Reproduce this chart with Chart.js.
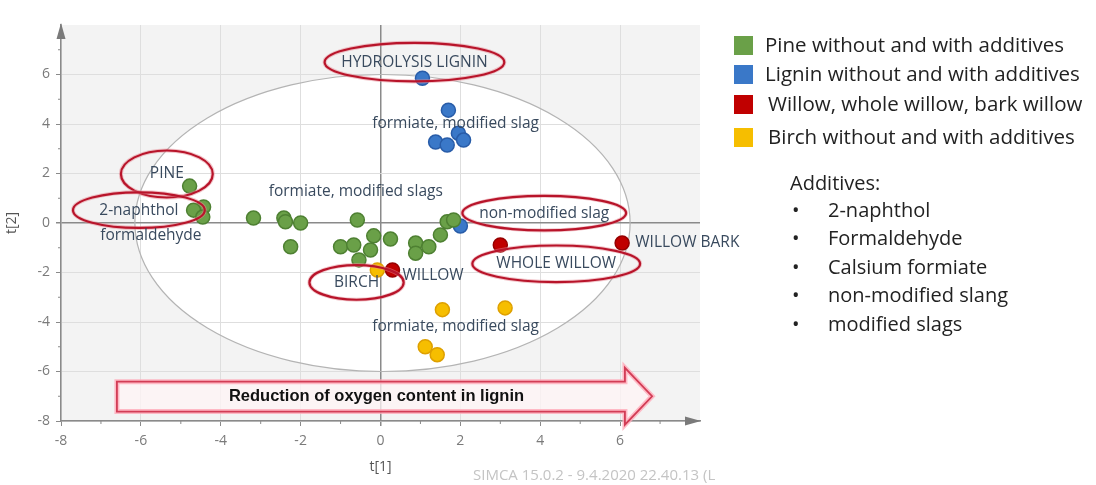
<!DOCTYPE html>
<html>
<head>
<meta charset="utf-8">
<script src="https://cdn.jsdelivr.net/npm/chart.js@4/dist/chart.umd.min.js"></script>
<style>
  html, body { margin: 0; padding: 0; background: #fff; }
  #wrap { width: 1096px; height: 485px; position: relative; }
</style>
</head>
<body>
<div id="wrap"><canvas id="myChart"></canvas></div>
<script>
'use strict';
// *** Data (score plot t[1] / t[2]) ***
const pineX = [-4.78, -4.43, -4.68, -4.45, -3.18, -2.42, -2.38, -2.0, -2.25, -1.0, -0.67, -0.58, -0.54, -0.25, -0.17, 0.25, 0.88, 0.88, 1.21, 1.5, 1.67, 1.83];
const pineY = [1.49, 0.65, 0.52, 0.24, 0.2, 0.2, 0.05, 0.0, -0.96, -0.96, -0.89, 0.12, -1.49, -1.09, -0.52, -0.65, -0.81, -1.22, -0.96, -0.48, 0.05, 0.12];
const ligninX = [1.05, 1.7, 1.38, 1.67, 1.95, 2.08, 2.0];
const ligninY = [5.85, 4.56, 3.27, 3.15, 3.63, 3.35, -0.12];
const willowX = [0.3, 3.0, 6.05];
const willowY = [-1.9, -0.89, -0.81];
const birchX = [-0.08, 1.55, 3.12, 1.12, 1.42];
const birchY = [-1.9, -3.5, -3.43, -5.0, -5.32];

const seriesNames = ['Pine without and with additives', 'Lignin without and with additives', 'Willow, whole willow, bark willow', 'Birch without and with additives'];
const seriesColors = ['rgb(106, 160, 72)', 'rgb(58, 120, 200)', 'rgb(192, 0, 0)', 'rgb(246, 190, 0)'];
const seriesBorders = ['rgb(78, 128, 50)', 'rgb(40, 92, 168)', 'rgb(150, 0, 0)', 'rgb(222, 160, 0)'];
const additives = ['2-naphthol', 'Formaldehyde', 'Calsium formiate', 'non-modified slang', 'modified slags'];

// annotations in data units
const plotLabels = [
	{ text: 'HYDROLYSIS LIGNIN', x: 0.85, y: 6.5, ring: [2.25, 0.78] },
	{ text: 'formiate, modified slag', x: 1.88, y: 4.03 },
	{ text: 'PINE', x: -5.35, y: 1.98, ring: [1.15, 0.95] },
	{ text: '2-naphthol', x: -6.05, y: 0.52, ring: [1.65, 0.72] },
	{ text: 'formaldehyde', x: -5.75, y: -0.52 },
	{ text: 'formiate, modified slags', x: -0.62, y: 1.25 },
	{ text: 'non-modified slag', x: 4.1, y: 0.4, ring: [2.05, 0.7] },
	{ text: 'WILLOW BARK', x: 6.38, y: -0.8, align: 'left' },
	{ text: 'WHOLE WILLOW', x: 4.4, y: -1.65, ring: [2.1, 0.74] },
	{ text: 'WILLOW', x: 0.55, y: -2.14, align: 'left' },
	{ text: 'BIRCH', x: -0.6, y: -2.4, ring: [1.18, 0.7] },
	{ text: 'formiate, modified slag', x: 1.88, y: -4.19 },
];

function toPoints(xs, ys) {
	return xs.map((x, i) => ({ x: x, y: ys[i] }));
}

function prepareDataSets() {
	const aryX = [pineX, ligninX, willowX, birchX];
	const aryY = [pineY, ligninY, willowY, birchY];
	return seriesNames.map((name, i) => ({
		label: name,
		data: toPoints(aryX[i], aryY[i]),
		backgroundColor: seriesColors[i],
		borderColor: seriesBorders[i],
		borderWidth: 1.5,
		pointRadius: 7,
		pointHoverRadius: 7,
	}));
}

const FONT = "'Open Sans', 'DejaVu Sans', sans-serif";

function axisOptions(title, isX) {
	return {
		type: 'linear',
		min: -8,
		max: 8,
		afterBuildTicks: (s) => { s.ticks = s.ticks.filter((t) => t.value < 7); },
		afterFit: (s) => { if (isX) { s.height = 64; } else { s.width = 61; } },
		ticks: { stepSize: 2, color: '#7a7a7a', padding: isX ? 7 : 6, font: { family: FONT, size: 14 } },
		grid: {
			color: (c) => (c.tick && c.tick.value === 0 ? '#8a8a8a' : '#dedede'),
			lineWidth: (c) => (c.tick && c.tick.value === 0 ? 1.5 : 1),
			tickColor: '#8a8a8a',
			tickLength: 5,
		},
		border: { color: '#8a8a8a', width: 1.5 },
		title: {
			display: true,
			text: title,
			color: '#555',
			font: { family: FONT, size: 14 },
			padding: isX ? { top: 0, bottom: 10 } : { top: 4, bottom: 4 },
		},
	};
}

const decorPlugin = {
	id: 'decor',
	beforeDraw(chart) {
		const { ctx, chartArea: a, scales: { x, y } } = chart;
		ctx.save();
		ctx.fillStyle = '#f3f3f3';
		ctx.fillRect(a.left, a.top, a.right - a.left, a.bottom - a.top);
		// Hotelling ellipse
		const cx = x.getPixelForValue(0.05), cy = y.getPixelForValue(0);
		const rx = x.getPixelForValue(6.2) - x.getPixelForValue(0);
		const ry = y.getPixelForValue(0) - y.getPixelForValue(6.0);
		ctx.beginPath();
		ctx.ellipse(cx, cy, rx, ry, 0, 0, Math.PI * 2);
		ctx.fillStyle = '#ffffff';
		ctx.fill();
		ctx.restore();
	},
	beforeDatasetsDraw(chart) {
		const { ctx, chartArea: a, scales: { x, y } } = chart;
		ctx.save();
		const cx = x.getPixelForValue(0.05), cy = y.getPixelForValue(0);
		const rx = x.getPixelForValue(6.2) - x.getPixelForValue(0);
		const ry = y.getPixelForValue(0) - y.getPixelForValue(6.0);
		ctx.beginPath();
		ctx.ellipse(cx, cy, rx, ry, 0, 0, Math.PI * 2);
		ctx.strokeStyle = '#b4b4b4';
		ctx.lineWidth = 1.2;
		ctx.stroke();
		// minor ticks
		ctx.strokeStyle = '#8a8a8a';
		ctx.lineWidth = 1;
		for (let v = -7; v <= 7; v += 2) {
			const px = x.getPixelForValue(v), py = y.getPixelForValue(v);
			ctx.beginPath();
			ctx.moveTo(px, a.bottom); ctx.lineTo(px, a.bottom + 3);
			ctx.moveTo(a.left, py); ctx.lineTo(a.left - 3, py);
			ctx.stroke();
		}
		// axis arrow heads
		ctx.fillStyle = '#7a7a7a';
		ctx.beginPath();
		ctx.moveTo(a.left, a.top - 2); ctx.lineTo(a.left - 4.5, a.top + 14); ctx.lineTo(a.left + 4.5, a.top + 14);
		ctx.closePath(); ctx.fill();
		ctx.beginPath();
		ctx.moveTo(a.right + 1, a.bottom); ctx.lineTo(a.right - 15, a.bottom - 4.5); ctx.lineTo(a.right - 15, a.bottom + 4.5);
		ctx.closePath(); ctx.fill();
		ctx.restore();
	},
	afterDatasetsDraw(chart) {
		const { ctx, scales: { x, y } } = chart;
		ctx.save();
		// big arrow
		const xl = x.getPixelForValue(-6.6), xb = x.getPixelForValue(6.12), xt = x.getPixelForValue(6.8);
		const yt = y.getPixelForValue(-6.41), yb = y.getPixelForValue(-7.62);
		const ht = y.getPixelForValue(-5.85), hb = y.getPixelForValue(-8.15);
		const ym = y.getPixelForValue(-7.0);
		ctx.beginPath();
		ctx.moveTo(xl, yt); ctx.lineTo(xb, yt); ctx.lineTo(xb, ht); ctx.lineTo(xt, ym);
		ctx.lineTo(xb, hb); ctx.lineTo(xb, yb); ctx.lineTo(xl, yb); ctx.closePath();
		ctx.fillStyle = 'rgba(255, 244, 246, 0.75)';
		ctx.fill();
		ctx.strokeStyle = 'rgba(255, 170, 185, 0.8)';
		ctx.lineWidth = 5;
		ctx.stroke();
		ctx.strokeStyle = '#d23c55';
		ctx.lineWidth = 1.8;
		ctx.stroke();
		ctx.fillStyle = '#111';
		ctx.font = "bold 16.5px 'Liberation Sans', Arial, sans-serif";
		ctx.textAlign = 'center';
		ctx.textBaseline = 'middle';
		ctx.fillText('Reduction of oxygen content in lignin', x.getPixelForValue(-0.1), ym);
		// labels and rings
		ctx.font = '15.5px ' + FONT;
		plotLabels.forEach((l) => {
			const px = x.getPixelForValue(l.x), py = y.getPixelForValue(l.y);
			ctx.fillStyle = '#394a5e';
			ctx.textAlign = l.align || 'center';
			ctx.fillText(l.text, px, py);
			if (l.ring) {
				const rx = x.getPixelForValue(l.x + l.ring[0]) - px;
				const ry = py - y.getPixelForValue(l.y + l.ring[1]);
				ctx.beginPath();
				ctx.ellipse(px, py, rx, ry, 0, 0, Math.PI * 2);
				ctx.strokeStyle = 'rgba(230, 140, 150, 0.5)';
				ctx.lineWidth = 4;
				ctx.stroke();
				ctx.strokeStyle = '#b8142a';
				ctx.lineWidth = 2.2;
				ctx.stroke();
			}
		});
		ctx.restore();
	},
	afterDraw(chart) {
		const { ctx } = chart;
		ctx.save();
		// footer
		ctx.fillStyle = '#c4c4c4';
		ctx.font = '15px ' + FONT;
		ctx.textAlign = 'left';
		ctx.textBaseline = 'middle';
		ctx.fillText('SIMCA 15.0.2 - 9.4.2020 22.40.13 (L', 473, 476);
		// legend
		const rowY = [46, 75, 105, 138];
		const textX = [765, 765, 768, 768];
		ctx.font = '20.5px ' + FONT;
		seriesNames.forEach((name, i) => {
			ctx.fillStyle = seriesColors[i];
			ctx.fillRect(734, rowY[i] - 10, 19, 19);
			ctx.fillStyle = '#222';
			ctx.fillText(name, textX[i], rowY[i]);
		});
		// additives list
		ctx.font = '20px ' + FONT;
		ctx.fillText('Additives:', 790, 184);
		additives.forEach((a, i) => {
			const ty = 211 + i * 28.5;
			ctx.fillText('\u2022', 792, ty);
			ctx.fillText(a, 828, ty);
		});
		ctx.restore();
	},
};

function chartIt() {
	const config = {
		type: 'scatter',
		data: { datasets: prepareDataSets() },
		options: {
			responsive: true,
			maintainAspectRatio: false,
			animation: false,
			layout: { padding: { top: 25, right: 396, left: 0, bottom: 0 } },
			plugins: { legend: { display: false }, tooltip: { enabled: false } },
			scales: { x: axisOptions('t[1]', true), y: axisOptions('t[2]', false) },
		},
		plugins: [decorPlugin],
	};
	return new Chart(document.getElementById('myChart'), config);
}

// *** Entry Point ***
chartIt();
</script>
</body>
</html>
